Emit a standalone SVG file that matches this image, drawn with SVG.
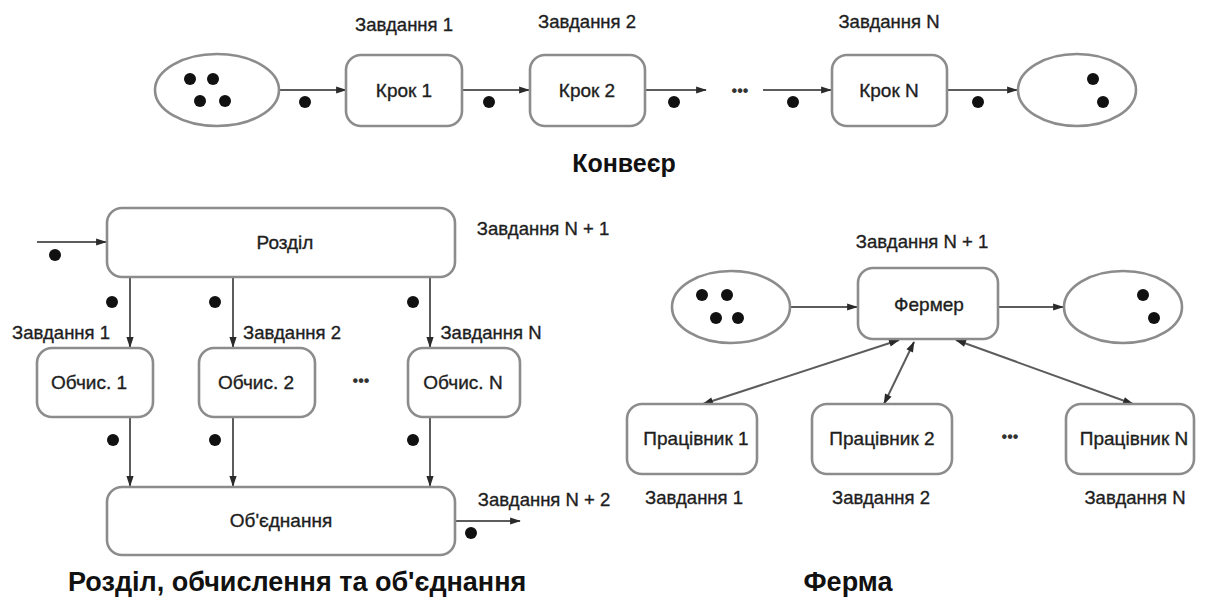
<svg xmlns="http://www.w3.org/2000/svg" width="1208" height="602" viewBox="0 0 1208 602">
  <defs>
    <marker id="arrow" viewBox="0 0 12 10" refX="11" refY="5" markerWidth="12" markerHeight="9" markerUnits="userSpaceOnUse" orient="auto-start-reverse">
      <path d="M0,1 L12,5 L0,9 Z" fill="#2a2a2a"/>
    </marker>
    <style>
      .box { fill: #fff; stroke: #8c8c8c; stroke-width: 2.6; }
      .pool { fill: #fff; stroke: #8c8c8c; stroke-width: 2.6; }
      .edge { stroke: #5c5c5c; stroke-width: 2; fill: none; marker-end: url(#arrow); }
      .edge2 { stroke: #5c5c5c; stroke-width: 2; fill: none; marker-end: url(#arrow); marker-start: url(#arrow); }
      .dot { fill: #111; }
      .lbl { font-family: "Liberation Sans", Arial, sans-serif; font-size: 19px; fill: #1e1e1e; stroke: #1e1e1e; stroke-width: 0.35; text-anchor: middle; }
      .task { font-family: "Liberation Sans", Arial, sans-serif; font-size: 18.5px; fill: #1e1e1e; stroke: #1e1e1e; stroke-width: 0.35; text-anchor: middle; }
      .title { font-family: "Liberation Sans", Arial, sans-serif; font-size: 25px; font-weight: bold; fill: #111; text-anchor: middle; }
      .title-lg { font-family: "Liberation Sans", Arial, sans-serif; font-size: 27px; font-weight: bold; fill: #111; }
      .dots3 { font-family: "Liberation Sans", Arial, sans-serif; font-size: 16px; font-weight: bold; fill: #333; text-anchor: middle; }
    </style>
  </defs>

  <rect width="1208" height="602" fill="#fff"/>

  <!-- Pipeline connectors -->
  <g id="pipeline-edges">
    <line class="edge" x1="280" y1="90" x2="346" y2="90"/>
    <line class="edge" x1="462" y1="90" x2="529" y2="90"/>
    <line class="edge" x1="645" y1="90" x2="706" y2="90"/>
    <line class="edge" x1="763" y1="90" x2="831" y2="90"/>
    <line class="edge" x1="947" y1="90" x2="1017" y2="90"/>
    <circle class="dot" cx="305" cy="102" r="6"/>
    <circle class="dot" cx="489" cy="102" r="6"/>
    <circle class="dot" cx="674" cy="102" r="6"/>
    <circle class="dot" cx="793" cy="102" r="6"/>
    <circle class="dot" cx="978" cy="102" r="6"/>
    <text class="dots3" x="740" y="96">•••</text>
  </g>

  <!-- Pipeline nodes -->
  <g id="pipe-in">
    <ellipse class="pool" cx="217" cy="90" rx="62" ry="36"/>
    <circle class="dot" cx="190" cy="79" r="6"/>
    <circle class="dot" cx="213" cy="79" r="6"/>
    <circle class="dot" cx="200" cy="101" r="6"/>
    <circle class="dot" cx="225" cy="101" r="6"/>
  </g>
  <g id="step1">
    <rect class="box" x="346" y="55" width="116" height="71" rx="15"/>
    <text class="lbl" x="404" y="97">Крок 1</text>
    <text class="task" x="404" y="31">Завдання 1</text>
  </g>
  <g id="step2">
    <rect class="box" x="530" y="55" width="115" height="71" rx="15"/>
    <text class="lbl" x="587" y="97">Крок 2</text>
    <text class="task" x="587" y="28">Завдання 2</text>
  </g>
  <g id="stepN">
    <rect class="box" x="832" y="55" width="115" height="71" rx="15"/>
    <text class="lbl" x="889" y="97">Крок N</text>
    <text class="task" x="889" y="28">Завдання N</text>
  </g>
  <g id="pipe-out">
    <ellipse class="pool" cx="1077" cy="90" rx="59" ry="36"/>
    <circle class="dot" cx="1093" cy="79" r="6"/>
    <circle class="dot" cx="1103" cy="102" r="6"/>
  </g>
  <text class="title" x="624" y="172">Конвеєр</text>

  <!-- Split / compute / join connectors -->
  <g id="scj-edges">
    <line class="edge" x1="37" y1="242" x2="106" y2="242"/>
    <circle class="dot" cx="55" cy="255" r="6"/>
    <line class="edge" x1="130" y1="277" x2="130" y2="347"/>
    <line class="edge" x1="233" y1="277" x2="233" y2="347"/>
    <line class="edge" x1="430" y1="277" x2="430" y2="347"/>
    <circle class="dot" cx="112" cy="302" r="6"/>
    <circle class="dot" cx="215" cy="302" r="6"/>
    <circle class="dot" cx="413" cy="302" r="6"/>
    <line class="edge" x1="130" y1="417" x2="130" y2="486"/>
    <line class="edge" x1="233" y1="417" x2="233" y2="486"/>
    <line class="edge" x1="430" y1="417" x2="430" y2="486"/>
    <circle class="dot" cx="113" cy="440" r="6"/>
    <circle class="dot" cx="215" cy="440" r="6"/>
    <circle class="dot" cx="413" cy="440" r="6"/>
    <line class="edge" x1="455" y1="521" x2="520" y2="521"/>
    <circle class="dot" cx="471" cy="533" r="6"/>
    <text class="dots3" x="361" y="386">•••</text>
  </g>

  <!-- Split / compute / join nodes -->
  <g id="split">
    <rect class="box" x="107" y="208" width="348" height="69" rx="15"/>
    <text class="lbl" x="285" y="249">Розділ</text>
    <text class="task" x="543" y="235">Завдання N + 1</text>
  </g>
  <g id="compute1">
    <rect class="box" x="37" y="348" width="116" height="69" rx="15"/>
    <text class="lbl" x="89" y="389">Обчис. 1</text>
    <text class="task" x="61" y="339">Завдання 1</text>
  </g>
  <g id="compute2">
    <rect class="box" x="199" y="348" width="116" height="69" rx="15"/>
    <text class="lbl" x="256" y="389">Обчис. 2</text>
    <text class="task" x="292" y="339">Завдання 2</text>
  </g>
  <g id="computeN">
    <rect class="box" x="408" y="348" width="112" height="69" rx="15"/>
    <text class="lbl" x="463" y="389">Обчис. N</text>
    <text class="task" x="491" y="339">Завдання N</text>
  </g>
  <g id="join">
    <rect class="box" x="107" y="487" width="348" height="68" rx="15"/>
    <text class="lbl" x="281" y="527">Об'єднання</text>
    <text class="task" x="544" y="506">Завдання N + 2</text>
  </g>
  <text class="title-lg" x="68" y="591">Розділ, обчислення та об'єднання</text>

  <!-- Farm connectors -->
  <g id="farm-edges">
    <line class="edge" x1="791" y1="307" x2="857" y2="307"/>
    <line class="edge" x1="998" y1="307" x2="1063" y2="307"/>
    <line class="edge2" x1="899" y1="340" x2="703" y2="404"/>
    <line class="edge2" x1="914" y1="342" x2="884" y2="404"/>
    <line class="edge2" x1="956" y1="340" x2="1133" y2="404"/>
    <text class="dots3" x="1010" y="442">•••</text>
  </g>

  <!-- Farm nodes -->
  <g id="farm-in">
    <ellipse class="pool" cx="731" cy="307" rx="59" ry="36"/>
    <circle class="dot" cx="702" cy="295" r="6"/>
    <circle class="dot" cx="727" cy="295" r="6"/>
    <circle class="dot" cx="716" cy="318" r="6"/>
    <circle class="dot" cx="738" cy="318" r="6"/>
  </g>
  <g id="farmer">
    <rect class="box" x="858" y="268" width="140" height="71" rx="15"/>
    <text class="lbl" x="929" y="311">Фермер</text>
    <text class="task" x="922" y="248">Завдання N + 1</text>
  </g>
  <g id="farm-out">
    <ellipse class="pool" cx="1123" cy="307" rx="59" ry="36"/>
    <circle class="dot" cx="1143" cy="295" r="6"/>
    <circle class="dot" cx="1154" cy="318" r="6"/>
  </g>
  <g id="worker1">
    <rect class="box" x="627" y="404" width="130" height="70" rx="15"/>
    <text class="lbl" x="696" y="445">Працівник 1</text>
    <text class="task" x="694" y="504">Завдання 1</text>
  </g>
  <g id="worker2">
    <rect class="box" x="812" y="404" width="140" height="70" rx="15"/>
    <text class="lbl" x="882" y="445">Працівник 2</text>
    <text class="task" x="881" y="504">Завдання 2</text>
  </g>
  <g id="workerN">
    <rect class="box" x="1066" y="404" width="128" height="70" rx="15"/>
    <text class="lbl" x="1134" y="445">Працівник N</text>
    <text class="task" x="1135" y="504">Завдання N</text>
  </g>
  <text class="title-lg" x="848" y="591" text-anchor="middle">Ферма</text>
</svg>
